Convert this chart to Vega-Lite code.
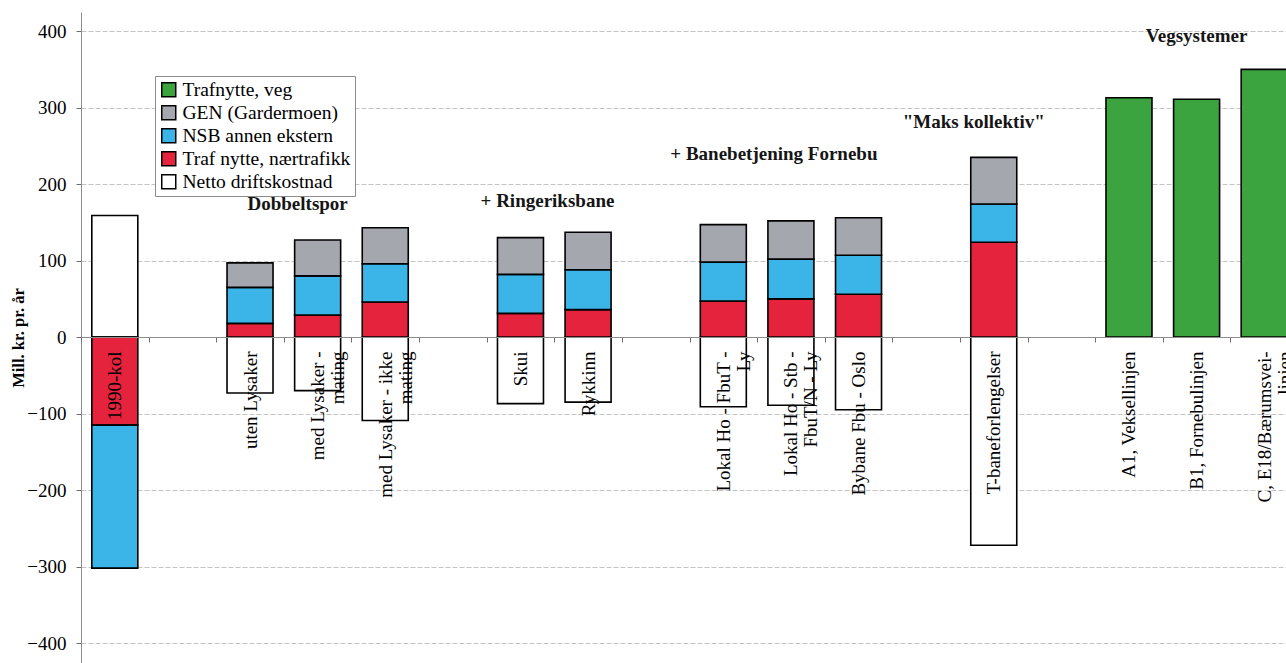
{
  "$schema": "https://vega.github.io/schema/vega-lite/v6.json",
  "width": 1217,
  "height": 651,
  "autosize": {"type": "none"},
  "padding": {"left": 81, "top": 12, "right": -12, "bottom": 0},
  "background": "white",
  "config": {
    "view": {"stroke": null},
    "font": "Liberation Serif",
    "axis": {"labelFont": "Liberation Serif", "titleFont": "Liberation Serif"},
    "legend": {"labelFont": "Liberation Serif"},
    "style": {"guide-label": {"font": "Liberation Serif"}}
  },
  "layer": [
    {
      "data": {
        "values": [
          {"alt": "1990-kol", "serie": "Netto driftskostnad", "nr": 1, "verdi": 159},
          {"alt": "1990-kol", "serie": "Traf nytte, nærtrafikk", "nr": 2, "verdi": -115},
          {"alt": "1990-kol", "serie": "NSB annen ekstern", "nr": 3, "verdi": -187},
          {"alt": "uten Lysaker", "serie": "Netto driftskostnad", "nr": 1, "verdi": -73},
          {"alt": "uten Lysaker", "serie": "Traf nytte, nærtrafikk", "nr": 2, "verdi": 18},
          {"alt": "uten Lysaker", "serie": "NSB annen ekstern", "nr": 3, "verdi": 47},
          {"alt": "uten Lysaker", "serie": "GEN (Gardermoen)", "nr": 4, "verdi": 32},
          {"alt": "med Lysaker -\nmating", "serie": "Netto driftskostnad", "nr": 1, "verdi": -70},
          {"alt": "med Lysaker -\nmating", "serie": "Traf nytte, nærtrafikk", "nr": 2, "verdi": 29},
          {"alt": "med Lysaker -\nmating", "serie": "NSB annen ekstern", "nr": 3, "verdi": 51},
          {"alt": "med Lysaker -\nmating", "serie": "GEN (Gardermoen)", "nr": 4, "verdi": 47},
          {"alt": "med Lysaker - ikke\nmating", "serie": "Netto driftskostnad", "nr": 1, "verdi": -109},
          {"alt": "med Lysaker - ikke\nmating", "serie": "Traf nytte, nærtrafikk", "nr": 2, "verdi": 46},
          {"alt": "med Lysaker - ikke\nmating", "serie": "NSB annen ekstern", "nr": 3, "verdi": 50},
          {"alt": "med Lysaker - ikke\nmating", "serie": "GEN (Gardermoen)", "nr": 4, "verdi": 47},
          {"alt": "Skui", "serie": "Netto driftskostnad", "nr": 1, "verdi": -87},
          {"alt": "Skui", "serie": "Traf nytte, nærtrafikk", "nr": 2, "verdi": 31},
          {"alt": "Skui", "serie": "NSB annen ekstern", "nr": 3, "verdi": 51},
          {"alt": "Skui", "serie": "GEN (Gardermoen)", "nr": 4, "verdi": 48},
          {"alt": "Rykkinn", "serie": "Netto driftskostnad", "nr": 1, "verdi": -85},
          {"alt": "Rykkinn", "serie": "Traf nytte, nærtrafikk", "nr": 2, "verdi": 36},
          {"alt": "Rykkinn", "serie": "NSB annen ekstern", "nr": 3, "verdi": 52},
          {"alt": "Rykkinn", "serie": "GEN (Gardermoen)", "nr": 4, "verdi": 49},
          {"alt": "Lokal Ho - FbuT -\nLy", "serie": "Netto driftskostnad", "nr": 1, "verdi": -91},
          {"alt": "Lokal Ho - FbuT -\nLy", "serie": "Traf nytte, nærtrafikk", "nr": 2, "verdi": 47},
          {"alt": "Lokal Ho - FbuT -\nLy", "serie": "NSB annen ekstern", "nr": 3, "verdi": 51},
          {"alt": "Lokal Ho - FbuT -\nLy", "serie": "GEN (Gardermoen)", "nr": 4, "verdi": 49},
          {"alt": "Lokal Ho - Stb -\nFbuT/N - Ly", "serie": "Netto driftskostnad", "nr": 1, "verdi": -89},
          {"alt": "Lokal Ho - Stb -\nFbuT/N - Ly", "serie": "Traf nytte, nærtrafikk", "nr": 2, "verdi": 50},
          {"alt": "Lokal Ho - Stb -\nFbuT/N - Ly", "serie": "NSB annen ekstern", "nr": 3, "verdi": 52},
          {"alt": "Lokal Ho - Stb -\nFbuT/N - Ly", "serie": "GEN (Gardermoen)", "nr": 4, "verdi": 50},
          {"alt": "Bybane Fbu - Oslo", "serie": "Netto driftskostnad", "nr": 1, "verdi": -95},
          {"alt": "Bybane Fbu - Oslo", "serie": "Traf nytte, nærtrafikk", "nr": 2, "verdi": 56},
          {"alt": "Bybane Fbu - Oslo", "serie": "NSB annen ekstern", "nr": 3, "verdi": 51},
          {"alt": "Bybane Fbu - Oslo", "serie": "GEN (Gardermoen)", "nr": 4, "verdi": 49},
          {"alt": "T-baneforlengelser", "serie": "Netto driftskostnad", "nr": 1, "verdi": -272},
          {"alt": "T-baneforlengelser", "serie": "Traf nytte, nærtrafikk", "nr": 2, "verdi": 124},
          {"alt": "T-baneforlengelser", "serie": "NSB annen ekstern", "nr": 3, "verdi": 50},
          {"alt": "T-baneforlengelser", "serie": "GEN (Gardermoen)", "nr": 4, "verdi": 61},
          {"alt": "A1, Veksellinjen", "serie": "Trafnytte, veg", "nr": 5, "verdi": 313},
          {"alt": "B1, Fornebulinjen", "serie": "Trafnytte, veg", "nr": 5, "verdi": 311},
          {"alt": "C, E18/Bærumsvei-\nlinjen", "serie": "Trafnytte, veg", "nr": 5, "verdi": 350}
        ]
      },
      "mark": {"type": "bar", "stroke": "black", "strokeWidth": 1.6, "width": 46},
      "encoding": {
        "x": {
          "field": "alt",
          "type": "nominal",
          "title": null,
          "scale": {
            "domain": ["1990-kol", " ", "uten Lysaker", "med Lysaker -\nmating", "med Lysaker - ikke\nmating", "  ", "Skui", "Rykkinn", "   ", "Lokal Ho - FbuT -\nLy", "Lokal Ho - Stb -\nFbuT/N - Ly", "Bybane Fbu - Oslo", "    ", "T-baneforlengelser", "     ", "A1, Veksellinjen", "B1, Fornebulinjen", "C, E18/Bærumsvei-\nlinjen"],
            "paddingInner": 0,
            "paddingOuter": 0
          },
          "axis": {
            "orient": "bottom",
            "offset": -326,
            "title": null,
            "zindex": 2,
            "grid": false,
            "domainColor": "#8c8c8c",
            "domainWidth": 1,
            "tickBand": "extent",
            "tickColor": "#6e6e6e",
            "tickSize": 5,
            "labelAngle": -90,
            "labelAlign": "right",
            "labelBaseline": "middle",
            "labelFont": "Liberation Serif",
            "labelFontSize": 19,
            "labelColor": "black",
            "labelLimit": 0,
            "labelOverlap": false,
            "labelLineHeight": 20,
            "labelPadding": 9,
            "labelExpr": "split(datum.label, '\\n')"
          }
        },
        "y": {
          "field": "verdi",
          "type": "quantitative",
          "stack": "zero",
          "scale": {"domain": [-426, 425], "nice": false, "zero": false},
          "title": "Mill. kr. pr. år",
          "axis": {
            "orient": "left",
            "values": [-400, -300, -200, -100, 0, 100, 200, 300, 400],
            "domain": true,
            "domainColor": "#8c8c8c",
            "grid": true,
            "gridColor": "#c4c4c4",
            "gridDash": [5, 2],
            "ticks": true,
            "tickSize": 5,
            "tickColor": "#6e6e6e",
            "labelFont": "Liberation Serif",
            "labelFontSize": 19,
            "labelColor": "black",
            "labelPadding": 10,
            "titleFont": "Liberation Serif",
            "titleFontSize": 16.5,
            "titleFontWeight": "bold",
            "titleColor": "black",
            "titlePadding": 0
          }
        },
        "color": {
          "field": "serie",
          "type": "nominal",
          "scale": {
            "domain": ["Trafnytte, veg", "GEN (Gardermoen)", "NSB annen ekstern", "Traf nytte, nærtrafikk", "Netto driftskostnad"],
            "range": ["#3ba43f", "#a4a7ae", "#3bb4e8", "#e6233c", "#ffffff"]
          },
          "legend": {
            "orient": "none",
            "legendX": 74,
            "legendY": 64,
            "title": null,
            "fillColor": "white",
            "strokeColor": "#8c8c8c",
            "padding": 4,
            "symbolType": "square",
            "symbolSize": 196,
            "symbolStrokeColor": "black",
            "labelFont": "Liberation Serif",
            "labelFontSize": 19.5,
            "labelColor": "black",
            "labelLimit": 300
          }
        },
        "order": {"field": "nr", "type": "quantitative"}
      }
    },
    {
      "data": {"values": [{"alt": "med Lysaker -\nmating", "verdi": 174, "tekst": "Dobbeltspor"}]},
      "mark": {"type": "text", "font": "Liberation Serif", "fontSize": 19, "fontWeight": "bold", "color": "#151515", "align": "center", "baseline": "middle", "dx": -20},
      "encoding": {
        "x": {"field": "alt", "type": "nominal", "title": null, "scale": {"domain": ["1990-kol", " ", "uten Lysaker", "med Lysaker -\nmating", "med Lysaker - ikke\nmating", "  ", "Skui", "Rykkinn", "   ", "Lokal Ho - FbuT -\nLy", "Lokal Ho - Stb -\nFbuT/N - Ly", "Bybane Fbu - Oslo", "    ", "T-baneforlengelser", "     ", "A1, Veksellinjen", "B1, Fornebulinjen", "C, E18/Bærumsvei-\nlinjen"], "paddingInner": 0, "paddingOuter": 0}},
        "y": {"field": "verdi", "type": "quantitative", "title": "Mill. kr. pr. år", "scale": {"domain": [-426, 425], "nice": false, "zero": false}},
        "text": {"field": "tekst", "type": "nominal"}
      }
    },
    {
      "data": {"values": [{"alt": "Skui", "verdi": 178, "tekst": "+ Ringeriksbane"}]},
      "mark": {"type": "text", "font": "Liberation Serif", "fontSize": 19, "fontWeight": "bold", "color": "#151515", "align": "center", "baseline": "middle", "dx": 27},
      "encoding": {
        "x": {"field": "alt", "type": "nominal", "title": null, "scale": {"domain": ["1990-kol", " ", "uten Lysaker", "med Lysaker -\nmating", "med Lysaker - ikke\nmating", "  ", "Skui", "Rykkinn", "   ", "Lokal Ho - FbuT -\nLy", "Lokal Ho - Stb -\nFbuT/N - Ly", "Bybane Fbu - Oslo", "    ", "T-baneforlengelser", "     ", "A1, Veksellinjen", "B1, Fornebulinjen", "C, E18/Bærumsvei-\nlinjen"], "paddingInner": 0, "paddingOuter": 0}},
        "y": {"field": "verdi", "type": "quantitative", "title": "Mill. kr. pr. år", "scale": {"domain": [-426, 425], "nice": false, "zero": false}},
        "text": {"field": "tekst", "type": "nominal"}
      }
    },
    {
      "data": {"values": [{"alt": "Lokal Ho - Stb -\nFbuT/N - Ly", "verdi": 240, "tekst": "+ Banebetjening Fornebu"}]},
      "mark": {"type": "text", "font": "Liberation Serif", "fontSize": 19, "fontWeight": "bold", "color": "#151515", "align": "center", "baseline": "middle", "dx": -17},
      "encoding": {
        "x": {"field": "alt", "type": "nominal", "title": null, "scale": {"domain": ["1990-kol", " ", "uten Lysaker", "med Lysaker -\nmating", "med Lysaker - ikke\nmating", "  ", "Skui", "Rykkinn", "   ", "Lokal Ho - FbuT -\nLy", "Lokal Ho - Stb -\nFbuT/N - Ly", "Bybane Fbu - Oslo", "    ", "T-baneforlengelser", "     ", "A1, Veksellinjen", "B1, Fornebulinjen", "C, E18/Bærumsvei-\nlinjen"], "paddingInner": 0, "paddingOuter": 0}},
        "y": {"field": "verdi", "type": "quantitative", "title": "Mill. kr. pr. år", "scale": {"domain": [-426, 425], "nice": false, "zero": false}},
        "text": {"field": "tekst", "type": "nominal"}
      }
    },
    {
      "data": {"values": [{"alt": "T-baneforlengelser", "verdi": 281, "tekst": "\"Maks kollektiv\""}]},
      "mark": {"type": "text", "font": "Liberation Serif", "fontSize": 19, "fontWeight": "bold", "color": "#151515", "align": "center", "baseline": "middle", "dx": -20},
      "encoding": {
        "x": {"field": "alt", "type": "nominal", "title": null, "scale": {"domain": ["1990-kol", " ", "uten Lysaker", "med Lysaker -\nmating", "med Lysaker - ikke\nmating", "  ", "Skui", "Rykkinn", "   ", "Lokal Ho - FbuT -\nLy", "Lokal Ho - Stb -\nFbuT/N - Ly", "Bybane Fbu - Oslo", "    ", "T-baneforlengelser", "     ", "A1, Veksellinjen", "B1, Fornebulinjen", "C, E18/Bærumsvei-\nlinjen"], "paddingInner": 0, "paddingOuter": 0}},
        "y": {"field": "verdi", "type": "quantitative", "title": "Mill. kr. pr. år", "scale": {"domain": [-426, 425], "nice": false, "zero": false}},
        "text": {"field": "tekst", "type": "nominal"}
      }
    },
    {
      "data": {"values": [{"alt": "B1, Fornebulinjen", "verdi": 393, "tekst": "Vegsystemer"}]},
      "mark": {"type": "text", "font": "Liberation Serif", "fontSize": 19, "fontWeight": "bold", "color": "#151515", "align": "center", "baseline": "middle"},
      "encoding": {
        "x": {"field": "alt", "type": "nominal", "title": null, "scale": {"domain": ["1990-kol", " ", "uten Lysaker", "med Lysaker -\nmating", "med Lysaker - ikke\nmating", "  ", "Skui", "Rykkinn", "   ", "Lokal Ho - FbuT -\nLy", "Lokal Ho - Stb -\nFbuT/N - Ly", "Bybane Fbu - Oslo", "    ", "T-baneforlengelser", "     ", "A1, Veksellinjen", "B1, Fornebulinjen", "C, E18/Bærumsvei-\nlinjen"], "paddingInner": 0, "paddingOuter": 0}},
        "y": {"field": "verdi", "type": "quantitative", "title": "Mill. kr. pr. år", "scale": {"domain": [-426, 425], "nice": false, "zero": false}},
        "text": {"field": "tekst", "type": "nominal"}
      }
    }
  ]
}
